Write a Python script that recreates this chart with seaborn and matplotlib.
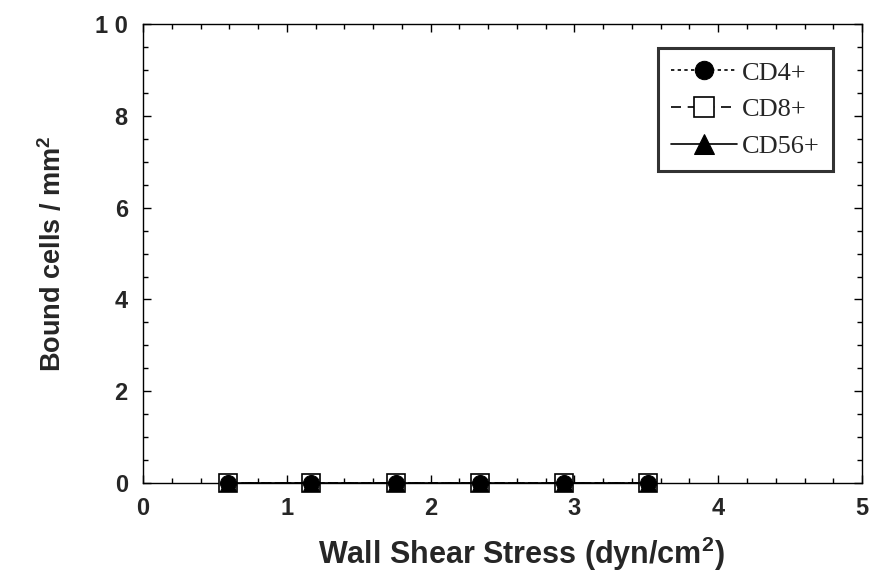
import matplotlib
matplotlib.use("Agg")
import matplotlib.pyplot as plt
from matplotlib.ticker import MultipleLocator, FixedLocator
import seaborn as sns
import pandas as pd

# Data
shear_stress = [0.59, 1.17, 1.76, 2.34, 2.93, 3.51]
cd4 = [0, 0, 0, 0, 0, 0]
cd8 = [0, 0, 0, 0, 0, 0]
cd56 = [0, 0, 0, 0, 0, 0]
series_names = ["CD4+", "CD8+", "CD56+"]
y_ticks = [0, 2, 4, 6, 8, 10]
y_tick_labels = ["0", "2", "4", "6", "8", "1 0"]
x_ticks = [0, 1, 2, 3, 4, 5]

sns.set_theme(style="ticks")
plt.rcParams['font.family'] = ['Liberation Sans', 'DejaVu Sans']
plt.rcParams['mathtext.fontset'] = 'custom'
plt.rcParams['mathtext.bf'] = 'Liberation Sans:bold'

fig = plt.figure(figsize=(8.69, 5.75), dpi=100)
ax = fig.add_axes([0.1646, 0.16, 0.8274, 0.798])

df8 = pd.DataFrame({"x": shear_stress, "y": cd8})
df56 = pd.DataFrame({"x": shear_stress, "y": cd56})
df4 = pd.DataFrame({"x": shear_stress, "y": cd4})

sns.lineplot(data=df8, x="x", y="y", ax=ax, color="black", lw=1.2,
             linestyle=(0, (6, 4)), marker="s", markersize=13,
             markerfacecolor="white", markeredgecolor="black",
             markeredgewidth=1.2, label=series_names[1], zorder=3,
             clip_on=False)
sns.lineplot(data=df56, x="x", y="y", ax=ax, color="black", lw=1.2,
             linestyle="-", marker="^", markersize=12,
             markerfacecolor="black", markeredgecolor="black",
             label=series_names[2], zorder=4, clip_on=False)
sns.lineplot(data=df4, x="x", y="y", ax=ax, color="black", lw=1.2,
             linestyle=(0, (2, 2)), marker="o", markersize=11.5,
             markerfacecolor="black", markeredgecolor="black",
             label=series_names[0], zorder=5, clip_on=False)

ax.set_xlim(0, 5)
ax.set_ylim(0, 10)
ax.xaxis.set_major_locator(FixedLocator(x_ticks))
ax.xaxis.set_minor_locator(MultipleLocator(0.2))
ax.yaxis.set_major_locator(FixedLocator(y_ticks))
ax.yaxis.set_minor_locator(MultipleLocator(0.5))
ax.set_yticklabels(y_tick_labels)
ax.tick_params(which="both", direction="in", top=True, right=True,
               color="black", width=1)
ax.tick_params(which="major", length=6, labelsize=17)
ax.tick_params(axis="x", which="major", pad=10)
ax.tick_params(axis="y", which="major", pad=11)
ax.tick_params(which="minor", length=3.5)
for lab in ax.get_xticklabels() + ax.get_yticklabels():
    lab.set_fontweight("bold")
for s in ax.spines.values():
    s.set_color("black")
    s.set_linewidth(1.0)

ax.set_xlabel("Wall Shear Stress (dyn/cm$^{\\mathbf{2}}$)", fontsize=22,
              fontweight="bold")
ax.xaxis.set_label_coords(0.526, -0.112)
ax.set_ylabel("Bound cells / mm$^{\\mathbf{2}}$", fontsize=19.5,
              fontweight="bold", labelpad=20)

handles, labels = ax.get_legend_handles_labels()
order = [labels.index(n) for n in series_names]
leg = ax.legend([handles[i] for i in order], [labels[i] for i in order],
                loc="upper right", bbox_to_anchor=(0.96, 0.948),
                prop={"family": "Liberation Serif", "size": 19},
                frameon=True, fancybox=False, edgecolor="black",
                handlelength=2.5, handletextpad=0.2, borderpad=0.5,
                labelspacing=0.5, borderaxespad=0, markerscale=1.15)
leg.get_frame().set_linewidth(2.2)

fig.savefig("out.png", dpi=100)
